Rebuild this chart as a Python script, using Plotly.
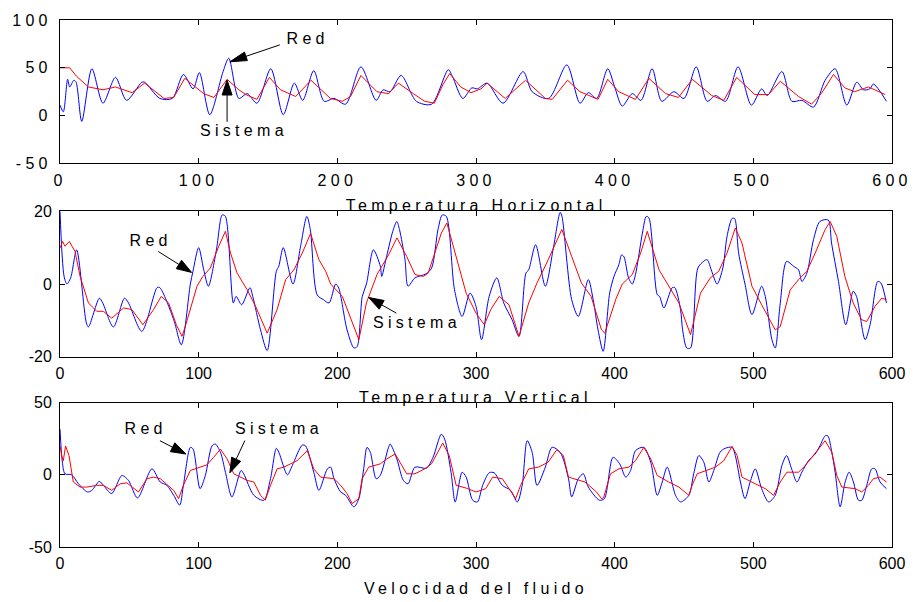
import math
import plotly.graph_objects as go

# ---- Temperatura Horizontal ----
th_red_x = [0, 2.4, 5.5, 7, 10, 11.6, 15.7, 23, 31, 40, 48, 59, 61, 72, 81, 89, 96, 100.5, 108, 117.6,
            121.7, 129, 135, 142, 152, 161, 169, 175, 183, 190.5, 197.6, 206, 217, 228, 233, 238, 246, 257,
            268, 280, 283, 290.5, 297, 301, 308, 319.5, 334, 340.5, 352.4, 365.5, 375, 381, 387, 395, 400,
            405.5, 412.7, 419, 427, 434, 442.7, 450, 458.8, 466.7, 472.7, 480, 489, 498.6, 506, 510, 520.6,
            527.8, 535, 543.4, 551.8, 559, 567.4, 574.6, 579.4, 584, 586.6, 596]
th_red_y = [11, 4, 38, 30, 37, 35, -6, 49, 13, 40, 16, 35, 35, 18, 18, 43, 28, 45, 1, 46,
            60, 18, 23, 13, 49, 1, 34, 16, 47, 15, 18, 12, 51, 16, 27, 25, 42, 15,
            12, 48, 41, 18, 29, 28, 34, 13, 46, 25, 18, 53, 13, 24, 18, 49, 30,
            10, 23, 16, 49, 15, 25, 18, 51, 15, 21, 15, 51, 11, 28, 21, 46,
            15, 16, 9, 37, 49, 11, 35, 27, 28, 33, 15]
th_sis_x = [0, 7, 12, 20.5, 31, 40, 52, 61, 75, 82, 90, 96, 103.6, 111, 120.5, 129, 134, 142, 151, 159,
            170, 181, 188, 195, 203.6, 209.5, 217, 228.6, 237, 244, 254.8, 263, 270, 276, 281, 289, 296.4,
            303.6, 308, 321, 335.7, 350, 355, 366, 375, 388, 395, 403, 415, 424.7, 436.7, 446, 456, 470,
            478.7, 488, 501, 511, 519.4, 532.6, 542, 549, 557.8, 566, 573, 583, 595]
th_sis_y = [50, 50, 41, 30, 27, 30, 24, 34, 18, 19, 39, 32, 23, 19, 38, 27, 22, 17, 40, 27,
            20, 37, 27, 18, 15, 20, 42, 25, 23, 34, 23, 15, 13, 32, 44, 30, 24,
            28, 34, 18, 37, 18, 17, 37, 25, 17, 38, 25, 17, 39, 23, 19, 38, 21,
            16, 40, 22, 22, 36, 20, 12, 23, 43, 29, 25, 30, 22]

# ---- Temperatura Vertical ----
tv_red_x = [0, 3, 5, 7.7, 12, 19, 20.5, 28.4, 30.8, 38.5, 46.5, 49.4, 59, 70, 72, 82, 87.5, 94, 95.9, 100,
            103.6, 107, 112.8, 117, 119.3, 125, 127, 131, 137, 139, 144.6, 149.4, 156, 157.8, 161, 168,
            173.5, 178, 180.5, 185.5, 190, 194, 198.8, 201, 207, 212, 214.3, 218, 221, 226, 231, 232, 235,
            240, 242.9, 244.8, 248.8, 251, 256, 264, 268, 272.6, 275.7, 278.6, 284.5, 290, 295.7, 300, 304,
            309.5, 315, 320, 326, 331, 336, 338, 343, 350, 356, 360.7, 362, 369, 373.8, 381, 384.5, 388,
            391.7, 396.4, 399.5, 403, 405, 406.7, 410, 412.7, 415, 420, 422.8, 424.7, 430.7, 432.4, 435.5,
            441.5, 443.4, 447.5, 449, 452, 454.7, 460, 464, 466.7, 470, 473.9, 478, 481, 484.6, 486.5,
            489.4, 494, 499, 506, 508.6, 513.4, 515.8, 519.4, 524, 529, 532.6, 535, 538.6, 543.4, 548, 554,
            556.4, 561.4, 566.7, 572, 574.4, 580.6, 584.2, 589.7, 592, 596]
tv_red_y = [20, 2, 0, 1.7, 9.4, -10.7, -11.8, -3.9, -5.2, -11.8, -3.9, -5.2, -13, -1, -1, -9.8, -16.7, 0, 3.5, 10,
            4, -0.6, 9.4, 19, 18.6, -5.2, -3.4, -5.7, -1, -3.4, -12.6, -18.3, 3.5, 4.9, 10, 0,
            10.4, 18.6, 15, -3, -4.3, -5.2, 0, -1.1, -12.6, -17.6, -17.2, -3.4, 0, 9.4, 4.9, 2.1, 6.7,
            14.5, 17.2, 15, 6.7, -0.6, 1.7, 2.8, 4.4, 15, 19, 18.6, -1.6, -8.9, -2.5, -6.1, -15.3,
            -3.4, 1.7, -5.2, -9.8, -14.4, 3, 3.9, 10.8, -0.6, 10.4, 19.7, 18.6, -4.3, -8.9, 1.2, -4.3, -12.6,
            -18.5, -2.5, 2.1, 5.3, 8, 7.5, 1.7, 0, 2.6, 14, 18.6, 18.2, -2.9, -3.4, -6.6,
            -1, -1, -7, -12.6, -17.6, -17.6, 4.4, 6.2, 6.7, 3.5, 0, 4.4, 13, 18, 18,
            8.5, 0, -8.4, -0.6, -3.4, -15.3, -17.6, -5.3, 6.2, 4.9, 3.9, 0.7, 3, 12.2, 17.2, 17.6,
            11.3, 0.7, -11.2, -2, -3.4, -15.3, -11.2, 0.7, 0.3, -5.2]
tv_sis_x = [0, 1.9, 3.6, 6.7, 10.8, 14.5, 20.5, 26.5, 31.3, 37.3, 45.8, 51.8, 59.8, 67.5, 73, 78.3, 83.9, 88,
            90.4, 98.8, 103, 108.4, 114.5, 119.3, 123, 127.7, 135, 141, 149.4, 156.6, 162.7, 168.7, 174.7,
            180.7, 186.7, 191.6, 195.2, 203.6, 215.5, 221, 228.6, 236.9, 243, 250, 256, 262, 265.5, 270,
            275, 279, 285.7, 292.9, 300, 306, 310.7, 316.7, 323.8, 331, 338, 344, 351, 361.9, 369, 376,
            383, 390.5, 392.9, 401, 405.5, 412.7, 418.7, 423.5, 432, 438, 446.3, 454.7, 461.9, 469, 475,
            481, 487, 491.8, 499, 506, 515.8, 519.4, 526.6, 532.6, 538.6, 544.6, 551.8, 555.4, 560.2, 566,
            572, 578, 581.8, 587.8, 592.6, 596]
tv_sis_y = [9.9, 11.7, 10.4, 11.7, 9, 2.1, -5.2, -7.5, -7.5, -9.4, -6.6, -7, -11.2, -7, -3.4, -5.2, -11.2, -14.4,
            -11.6, -0.6, 2.1, 4.4, 10.4, 14.5, 8.5, 3, -1.6, -6.1, -13.5, -7, 1.2, 3.9, 8.5,
            13.9, 6.7, 3.5, 0, -3.4, -15.3, -5.2, 2.6, 8, 12.7, 7.6, 2.6, 2.1, 3, 8,
            14, 16.8, 7.2, -2.5, -8, -11.2, -7, -3.4, -5.7, -14.4, -5.2, 0.3, 5.8, 15, 7.6, 0.3,
            -3.4, -12.6, -13.5, -4, 0, 2.6, 8.5, 14.5, 3.9, 0, -5.2, -13.9, -2.5, 1.7, 3.5,
            8.5, 15.4, 11.3, -0.6, -5.7, -12.6, -11.7, -1.6, 1.2, 3.5, 8.5, 15, 17.2, 13.1, 2.1,
            -5.2, -9.8, -10.3, -6.1, -3.9, -4.3]

# ---- Velocidad del fluido ----
vf_red_x = [0, 1.7, 3.6, 8.4, 13.3, 19.8, 22.9, 28.4, 31.3, 37.3, 44.6, 49.4, 55.9, 66.3, 72.3, 77.1, 82, 86.3,
            89, 94, 96, 101, 104.8, 109.6, 112, 115.7, 119.3, 124, 130.6, 132.5, 139.8, 147, 151.8, 156,
            157.8, 164, 167.5, 174.7, 177.1, 183, 186.7, 192.8, 195.2, 197.6, 202.4, 206, 212, 215.5, 219,
            221.4, 223.8, 228, 230.9, 236.9, 238.1, 242.9, 247.6, 251, 256, 264.3, 269, 275, 277.4, 282,
            285, 290, 292.9, 297.6, 301, 304.8, 309.5, 313.1, 319, 325, 329.8, 333.3, 336.9, 340.5, 344,
            350, 354.8, 360.7, 366.7, 369, 373.8, 377.4, 381, 389, 392.6, 398.8, 403.6, 408, 411.5, 415,
            421, 426, 430.7, 434.3, 437.9, 443.9, 447.5, 453.5, 457, 460.7, 464.3, 467.9, 471.5, 476,
            479.6, 484.7, 487, 490.7, 494, 497.7, 501.4, 506, 511, 515.8, 520.6, 524, 527.6, 531.4, 535,
            539.8, 544.6, 548, 551.8, 553.7, 556.6, 559, 562.6, 566.2, 569.1, 572.2, 575.8, 578.2, 581.8,
            585.4, 587.8, 591.4, 596]
vf_red_y = [31.6, 8.7, 0.7, 0, -6.2, -11.9, -10.8, -4.6, -7.3, -13, -0.5, -3.9, -16, 4.1, -5, -7.3, -14.2, -21,
            -7.3, 19, 17.8, -9.6, -0.5, 20, 21.3, 15.6, 1.8, -15.3, 3, 0.7, -14.2, -17.6, -2.7, 18.3,
            15.6, 0, 6.4, 20.6, 20, 1.8, -10.8, 4.1, 5.3, -2.7, -11.9, -14.2, -22.2, -16.5, 4.1,
            19, 15.6, -2.7, -0.5, 19, 21.3, 11, -3.9, -6.2, 5.3, 4.6, 12.1, 28.1, 24.7, 1.8,
            -18.8, 1.8, -1.6, -17.6, -18.8, -7.3, 1.4, 1.4, -7.3, -10.8, -18.8, -7.3, 23.6, 15.6, -7.3,
            5.3, 19, 15.6, -2.7, -15.3, -2.7, 0.7, -8.5, -17.6, -16.5, 12.1, 7.6, -1.6, 3, 16.7,
            19, 8.7, -14.2, -5, 5.3, -14.2, -18.8, -14.2, 0.7, 13.3, 8.7, -5, 3, 15.6,
            18.3, 19, 13.3, -5, -16.5, -5, 4.1, -9.6, -18.8, -14.2, 6.4, 13.3, 4.1, -5, 1.8,
            9.8, 14.4, 20, 27, 27, 15.6, 1.8, -22.2, -5, 1.8, -5, -17.6, -17.6, -7.3,
            4.1, 4.1, -5, -9.6]
vf_sis_x = [0, 1.2, 2.4, 4, 6.5, 9.6, 14.5, 19.3, 26.5, 31.3, 37.3, 43.4, 48.2, 51.8, 56.6, 62.7, 67.5, 72.3,
            82, 85.5, 89, 94, 101, 106, 110.8, 115.7, 120.5, 125.3, 135, 139.8, 144.6, 148, 151.8, 156.6,
            161.4, 171, 178.3, 183, 188, 197.6, 202.4, 207, 210.7, 215.5, 217.9, 222.6, 231, 235.7, 241.7,
            246.4, 250, 256, 263, 267.9, 272.6, 276, 280.7, 285.7, 292.9, 300, 307, 312, 319, 323.8, 328.6,
            332.2, 338, 345, 352, 358.3, 363, 366.7, 373.8, 378.6, 386.9, 390.5, 392, 397, 403, 410.3, 415,
            421, 426, 430.7, 439, 446.3, 453.5, 455.9, 459.5, 465.5, 472.7, 478.7, 484.7, 488.3, 491.8,
            501.4, 508.6, 514.6, 519.4, 524.2, 532.6, 537.4, 542.2, 547, 551.8, 556.6, 560.2, 563.8, 573.4,
            578.2, 583, 586.6, 591.4, 596]
vf_sis_y = [20, 13.3, 9.8, 20, 13.3, -5, -8.5, -8.5, -7.3, -7.3, -10.8, -6.2, -5.6, -8.5, -11.9, -2.7, -1.6, -2.7,
            -10.8, -16.5, -7.3, 3, 5.3, 6.9, 12.1, 17.8, 11, 0.7, -3.9, -5, -14.2, -17.6, -7.3, 4.1,
            5.3, 9.8, 16.7, 4.1, -1.6, -2.7, -7.3, -13, -19.9, -16.5, -2.7, 5.3, 7.6, 11, 14.4,
            6.4, 0.7, 0.7, 4.1, 7.6, 15.6, 22, 13.3, -7.3, -9.2, -11.9, -9.6, -1.6, -2.7, -9.6, -16.5,
            -7.3, 4.1, 5.3, 8.7, 17.4, 13.3, -1.6, -3.9, -5, -11.9, -16.5, -16, 0.7, 4.1, 5.3, 9.8,
            19, 11, -0.5, -5, -8.5, -14.2, -7.3, 0.7, 3, 5.3, 9.8, 19.7, 13.3, -1.6,
            -6.2, -9.6, -14.2, -5, 1.8, 1.8, 6.4, 12.1, 17.8, 23.6, 15.6, -0.5, -8.5, -9.6,
            -11.9, -7.3, -2.7, -1.6, -5]

x_ticks = [0, 100, 200, 300, 400, 500, 600]
y_ticks = [[-50, 0, 50, 100], [-20, 0, 20], [-50, 0, 50]]
y_ranges = [[-50, 100], [-20, 20], [-50, 50]]
axis_titles = ["Temperatura Horizontal", "Temperatura Vertical", "Velocidad del fluido"]

W, H = 917, 602
ML, MR, MT, MB = 60, 24, 18, 55
PW, PH = W - ML - MR, H - MT - MB
domains = [[0.7278, 1.0], [0.361, 0.637], [0.0, 0.274]]
FONT = "Arial, 'Liberation Sans', sans-serif"

fig = go.Figure()
series = [(th_red_x, th_red_y, th_sis_x, th_sis_y),
          (tv_red_x, tv_red_y, tv_sis_x, tv_sis_y),
          (vf_red_x, vf_red_y, vf_sis_x, vf_sis_y)]
for i, (rx, ry, sx, sy) in enumerate(series):
    sfx = "" if i == 0 else str(i + 1)
    fig.add_trace(go.Scatter(x=rx, y=ry, mode="lines", name="Red",
                             line=dict(color="#0000ff", width=1, shape="spline", smoothing=0.8),
                             xaxis="x" + sfx, yaxis="y" + sfx, showlegend=False))
    fig.add_trace(go.Scatter(x=sx, y=sy, mode="lines", name="Sistema",
                             line=dict(color="#ff0000", width=1),
                             xaxis="x" + sfx, yaxis="y" + sfx, showlegend=False))

axis_common = dict(showgrid=False, zeroline=False, showline=True, linecolor="black", linewidth=1,
                   mirror="ticks", ticks="inside", ticklen=5, tickcolor="black",
                   tickfont=dict(family=FONT, size=16, color="black"))
layout = dict(width=W, height=H, margin=dict(l=ML, r=MR, t=MT, b=MB),
              paper_bgcolor="white", plot_bgcolor="white", showlegend=False)
for i in range(3):
    sfx = "" if i == 0 else str(i + 1)
    layout["xaxis" + sfx] = dict(axis_common, range=[0, 600], tickvals=x_ticks,
                                 ticktext=[str(v) for v in x_ticks], domain=[0, 1],
                                 anchor="y" + sfx, ticklabelstandoff=2)
    layout["yaxis" + sfx] = dict(axis_common, range=y_ranges[i], tickvals=y_ticks[i],
                                 ticktext=[str(v) for v in y_ticks[i]], domain=domains[i],
                                 anchor="x" + sfx, ticklabelstandoff=4)
fig.update_layout(**layout)


def scales(row):
    lo, hi = y_ranges[row]
    d0, d1 = domains[row]
    return PW / 600.0, (d1 - d0) * PH / (hi - lo)


shapes = []


def arrow(row, tip_x, tip_y, dx, dy, head_len=15, head_w=10):
    """Arrow from a tail offset (dx, dy) in pixels to a tip given in data units."""
    sx, sy = scales(row)
    sfx = "" if row == 0 else str(row + 1)
    L = math.hypot(dx, dy)
    ux, uy = -dx / L, -dy / L
    bx, by = -ux * head_len, -uy * head_len
    nx, ny = -uy, ux

    def to_data(ox, oy):
        return tip_x + ox / sx, tip_y - oy / sy

    pts = [to_data(0, 0), to_data(bx + nx * head_w / 2, by + ny * head_w / 2),
           to_data(bx - nx * head_w / 2, by - ny * head_w / 2)]
    path = "M " + " L ".join(f"{x:.4f},{y:.4f}" for x, y in pts) + " Z"
    shapes.append(dict(type="path", path=path, xref="x" + sfx, yref="y" + sfx,
                       fillcolor="black", line=dict(color="black", width=1)))
    x0, y0 = to_data(dx, dy)
    x1, y1 = to_data(bx, by)
    shapes.append(dict(type="line", x0=x0, y0=y0, x1=x1, y1=y1, xref="x" + sfx, yref="y" + sfx,
                       line=dict(color="black", width=1)))


# arrows pointing at the curves
arrow(0, 122.5, 56.3, 50, -17, head_len=17, head_w=9)
arrow(0, 120.5, 37.2, 0, 42)
arrow(1, 94.9, 3.2, -33.4, -21)
arrow(1, 222.6, -3.7, 27.7, 15.7)
arrow(2, 90.8, 14.4, -26, -13.3)
arrow(2, 122.5, 1.4, 15, -32.3)
fig.update_layout(shapes=shapes)

labels = [(0, 178.3, 80.5, "Red"), (0, 133, -15.6, "Sistema"),
          (1, 65, 12.1, "Red"), (1, 257.8, -10.5, "Sistema"),
          (2, 62, 31.8, "Red"), (2, 158.2, 31.8, "Sistema")]
annotations = []
for row, x, y, t in labels:
    sfx = "" if row == 0 else str(row + 1)
    annotations.append(dict(x=x, y=y, xref="x" + sfx, yref="y" + sfx, text=t, showarrow=False,
                            font=dict(family=FONT, size=16, color="black"),
                            xanchor="center", yanchor="middle"))

title_y_px = [204, 397, 589]
for t, py in zip(axis_titles, title_y_px):
    annotations.append(dict(x=(476 - ML) / PW, y=(MT + PH - py) / PH, xref="paper", yref="paper",
                            text=t, showarrow=False, xanchor="center", yanchor="middle",
                            font=dict(family=FONT, size=16, color="black")))
fig.update_layout(annotations=annotations)

spacing_css = """
var st = document.createElement('style');
st.textContent = '.xtick text, .ytick text, .annotation-text { letter-spacing: 4.3px; }';
document.head.appendChild(st);
"""
fig.write_html("out.html", post_script=spacing_css)
